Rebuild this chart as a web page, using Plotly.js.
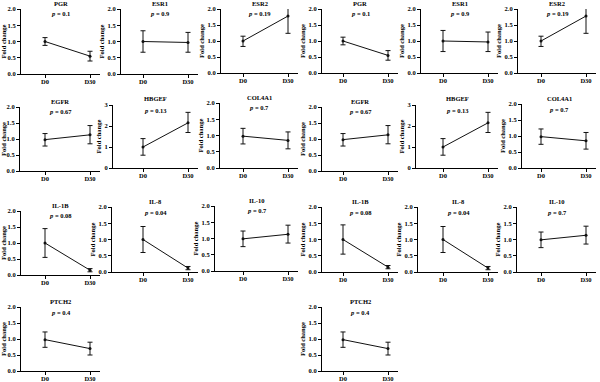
<!DOCTYPE html>
<html>
<head>
<meta charset="utf-8">
<script src="https://cdn.plot.ly/plotly-3.0.1.min.js"></script>
<style>
  html, body { margin: 0; padding: 0; background: #fff; }
  #chart { width: 600px; height: 382px; }
</style>
</head>
<body>
<div id="chart"></div>
<script>
// Gene expression fold change at D0 and D30 (mean with error bars)
const timepoints = ['D0', 'D30'];
const genes   = ['PGR', 'ESR1', 'ESR2', 'EGFR', 'HBGEF', 'COL4A1', 'IL-1B', 'IL-8', 'IL-10', 'PTCH2'];
const pValues = ['0.1', '0.9', '0.19', '0.67', '0.13', '0.7', '0.08', '0.04', '0.7', '0.4'];
const meanD0  = [1.00, 1.00, 1.00, 0.98, 1.00, 0.98, 1.00, 1.00, 0.99, 0.98];
const meanD30 = [0.55, 0.97, 1.78, 1.13, 2.15, 0.85, 0.15, 0.12, 1.13, 0.70];
const errUpD0   = [0.12, 0.33, 0.15, 0.19, 0.40, 0.24, 0.45, 0.40, 0.24, 0.24];
const errDownD0 = [0.12, 0.33, 0.17, 0.20, 0.39, 0.24, 0.45, 0.40, 0.24, 0.24];
const errUpD30   = [0.15, 0.31, 0.24, 0.29, 0.50, 0.26, 0.05, 0.05, 0.28, 0.20];
const errDownD30 = [0.15, 0.30, 0.54, 0.28, 0.46, 0.26, 0.05, 0.05, 0.27, 0.20];
const yMax = [2, 2, 2, 2, 3, 2, 2, 2, 2, 2];

// Panel boxes in pixels: [y-axis line x, top of value range, baseline y, D0 x]
const boxes = [
  // left block
  [21, 9, 74, 45], [121, 9, 74, 143], [221, 9, 73, 243],
  [20, 107, 171, 45], [113, 105, 168, 143], [220, 103, 168, 243],
  [21, 211, 275, 45], [112, 207, 272, 143], [215, 206, 271, 243],
  [21, 307, 371, 45],
  // right block
  [322, 9, 73, 343], [421, 9, 73, 443], [518, 9, 73, 541],
  [322, 107, 171, 343], [416, 105, 168, 443], [522, 104, 168, 541],
  [322, 207, 272, 343], [418, 207, 272, 443], [517, 207, 272, 541],
  [322, 307, 371, 343]
];

const W = 600, H = 382, STEP = 45;
const FONT = 'Liberation Serif, Times New Roman, serif';
const traces = [];
const layout = {
  width: W, height: H,
  margin: {l: 0, r: 0, t: 0, b: 0},
  paper_bgcolor: '#fff', plot_bgcolor: '#fff',
  showlegend: false,
  font: {family: FONT, color: '#000'},
  annotations: []
};

boxes.forEach((b, k) => {
  const g = k % genes.length;
  const n = k + 1;
  const xs = n === 1 ? '' : String(n);
  const [x0, yTop, yBot, d0] = b;
  const x1 = d0 + 55;

  traces.push({
    type: 'scatter', mode: 'lines+markers',
    x: timepoints, y: [meanD0[g], meanD30[g]],
    xaxis: 'x' + xs, yaxis: 'y' + xs,
    line: {color: '#111', width: 1},
    marker: {color: '#111', size: 3},
    cliponaxis: false,
    error_y: {
      type: 'data', symmetric: false,
      array: [errUpD0[g], errUpD30[g]],
      arrayminus: [errDownD0[g], errDownD30[g]],
      color: '#111', thickness: 1, width: 2.5
    },
    hoverinfo: 'skip'
  });

  const tickFont = {family: FONT, size: 6.5, color: '#000', weight: 'bold'};
  layout['xaxis' + xs] = {
    domain: [x0 / W, x1 / W],
    anchor: 'y' + xs,
    type: 'category',
    range: [-(d0 - x0) / STEP, (x1 - d0) / STEP],
    showgrid: false, zeroline: false,
    showline: true, linecolor: '#000', linewidth: 1,
    ticks: 'outside', ticklen: 3, tickwidth: 1, tickcolor: '#000',
    ticklabelstandoff: -2,
    tickfont: tickFont,
    fixedrange: true
  };
  const three = yMax[g] === 3;
  layout['yaxis' + xs] = {
    domain: [(H - yBot) / H, (H - yTop) / H],
    anchor: 'x' + xs,
    range: [0, yMax[g]],
    dtick: three ? 1 : 0.5,
    tickformat: three ? 'd' : '.1f',
    showgrid: false, zeroline: false,
    showline: true, linecolor: '#000', linewidth: 1,
    ticks: 'outside', ticklen: 3, tickwidth: 1, tickcolor: '#000',
    tickfont: tickFont,
    title: {text: 'Fold change', font: {family: FONT, size: 6.5, color: '#000', weight: 'bold'}, standoff: 2},
    fixedrange: true
  };

  const cx = (x0 + x1) / 2 / W;
  layout.annotations.push({
    xref: 'paper', yref: 'paper', x: cx, y: (H - (yTop - 6)) / H,
    text: '<b>' + genes[g] + '</b>', showarrow: false,
    font: {family: FONT, size: 6.5, color: '#000'},
    xanchor: 'center', yanchor: 'middle'
  });
  layout.annotations.push({
    xref: 'paper', yref: 'paper', x: cx, y: (H - (yTop + 5)) / H,
    text: '<b><i>p</i> = ' + pValues[g] + '</b>', showarrow: false,
    font: {family: FONT, size: 6.5, color: '#000'},
    xanchor: 'center', yanchor: 'middle'
  });
});

Plotly.newPlot('chart', traces, layout, {displayModeBar: false, staticPlot: true});
</script>
</body>
</html>
